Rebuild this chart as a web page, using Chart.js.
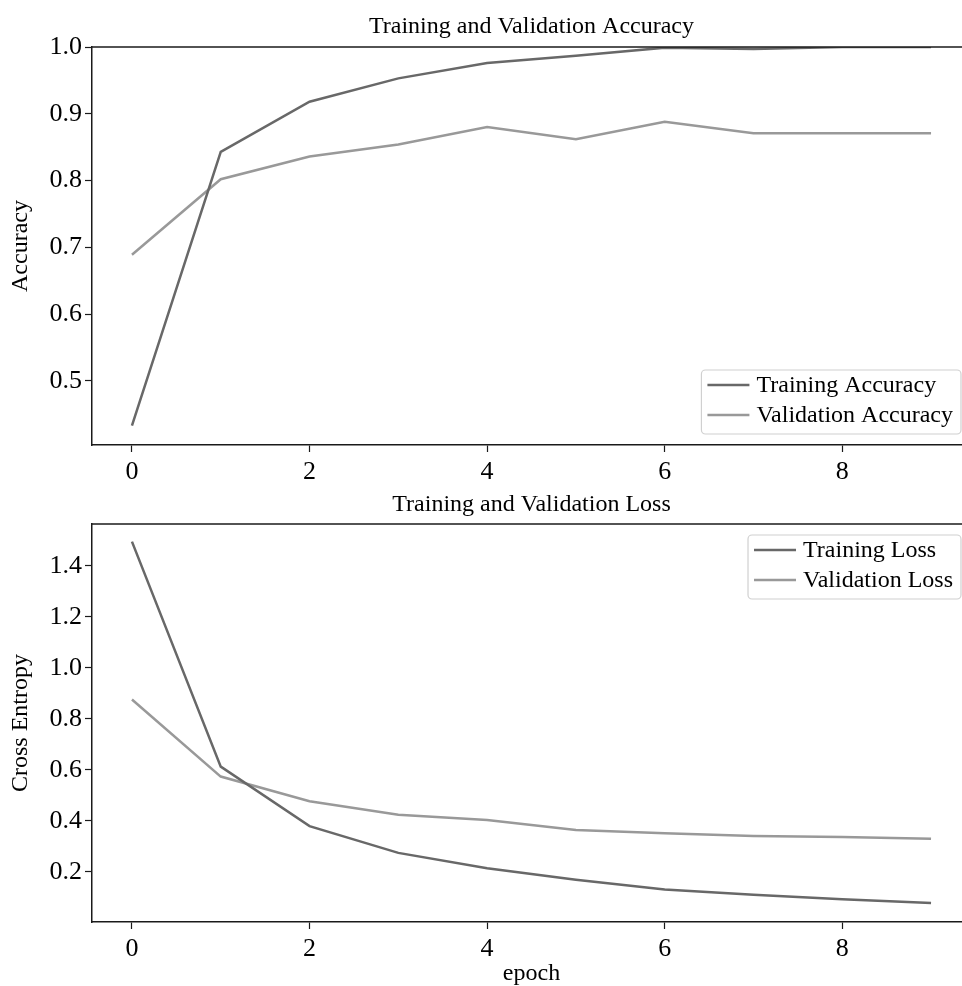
<!DOCTYPE html>
<html>
<head>
<meta charset="utf-8">
<script src="https://cdn.jsdelivr.net/npm/chart.js@4/dist/chart.umd.min.js"></script>
<style>
  html, body { margin: 0; padding: 0; background: #fff; overflow: hidden; width: 962px; height: 986px; }
  canvas { position: absolute; left: 0; }
  #acc-chart { top: 0; }
  #loss-chart { top: 490px; }
</style>
</head>
<body>
<canvas id="acc-chart" width="985" height="490"></canvas>
<canvas id="loss-chart" width="985" height="496"></canvas>
<script>
//data
const epochs = [0, 1, 2, 3, 4, 5, 6, 7, 8, 9];
const trainAcc = [0.433, 0.843, 0.918, 0.953, 0.976, 0.987, 0.999, 0.997, 1.0, 1.0];
const valAcc = [0.689, 0.802, 0.836, 0.854, 0.880, 0.862, 0.888, 0.871, 0.871, 0.871];
const trainLoss = [1.495, 0.613, 0.380, 0.275, 0.215, 0.170, 0.131, 0.111, 0.093, 0.078];
const valLoss = [0.876, 0.574, 0.477, 0.424, 0.404, 0.365, 0.352, 0.341, 0.337, 0.330];

//tick labels
const xTicks = [0, 2, 4, 6, 8];
const accTicks = [0.5, 0.6, 0.7, 0.8, 0.9, 1.0];
const lossTicks = [0.2, 0.4, 0.6, 0.8, 1.0, 1.2, 1.4];

//styles
const FONT = 'Liberation Serif';
const DARK = '#686868';
const LIGHT = '#999999';
const AXIS = '#1a1a1a';

const toPoints = (ys) => epochs.map((x, i) => ({ x, y: ys[i] }));

//title, top spine and legend drawn inside the plot
const framePlugin = {
  id: 'frame',
  afterDraw(chart, args, opts) {
    const { ctx, chartArea } = chart;
    const { left, right, top, bottom } = chartArea;
    ctx.save();

    // top spine
    ctx.strokeStyle = AXIS;
    ctx.lineWidth = 1.5;
    ctx.beginPath();
    ctx.moveTo(left, top);
    ctx.lineTo(right, top);
    ctx.stroke();

    // title
    ctx.fillStyle = '#000';
    ctx.font = `24px "${FONT}"`;
    ctx.textAlign = 'center';
    ctx.textBaseline = 'alphabetic';
    ctx.fillText(opts.title, (left + right) / 2, top - opts.titleGap);

    // legend
    const rows = chart.data.datasets;
    ctx.font = `24px "${FONT}"`;
    const textW = Math.max(...rows.map((d) => ctx.measureText(d.label).width));
    const boxW = 6 + 42 + 7 + textW + 8;
    const boxH = 64;
    const boxR = right - 10;
    const boxL = boxR - boxW;
    const boxT = opts.legendAt === 'top' ? top + 11 : bottom - 11 - boxH;

    ctx.fillStyle = 'rgba(255,255,255,0.85)';
    ctx.strokeStyle = '#d0d0d0';
    ctx.lineWidth = 1.2;
    ctx.beginPath();
    ctx.roundRect(boxL, boxT, boxW, boxH, 4);
    ctx.fill();
    ctx.stroke();

    rows.forEach((d, i) => {
      const y = boxT + 15 + i * 30;
      ctx.strokeStyle = d.borderColor;
      ctx.lineWidth = 2.5;
      ctx.beginPath();
      ctx.moveTo(boxL + 6, y);
      ctx.lineTo(boxL + 48, y);
      ctx.stroke();
      ctx.fillStyle = '#000';
      ctx.textAlign = 'left';
      ctx.textBaseline = 'middle';
      ctx.fillText(d.label, boxL + 55, y + 1);
    });

    ctx.restore();
  },
};

//shared axis builder
const makeScales = (yMin, yMax, yTicks, yLabel, xHeight, xLabel) => ({
  x: {
    type: 'linear',
    min: -0.45,
    max: 9.45,
    afterBuildTicks: (axis) => {
      axis.ticks = xTicks.map((v) => ({ value: v }));
    },
    afterFit: (axis) => {
      axis.height = xHeight;
    },
    border: { display: true, color: AXIS, width: 1.5 },
    grid: { drawOnChartArea: false, drawTicks: true, tickLength: 7, tickColor: AXIS, tickWidth: 1.2 },
    ticks: {
      color: '#000',
      font: { family: FONT, size: 26 },
      padding: 5,
      maxRotation: 0,
      autoSkip: false,
      callback: (v) => String(v),
    },
    title: {
      display: !!xLabel,
      text: xLabel || '',
      color: '#000',
      font: { family: FONT, size: 24, lineHeight: 1.0 },
      padding: { top: 0, bottom: 0 },
    },
  },
  y: {
    type: 'linear',
    min: yMin,
    max: yMax,
    afterBuildTicks: (axis) => {
      axis.ticks = yTicks.map((v) => ({ value: v }));
    },
    afterFit: (axis) => {
      axis.width = 92;
    },
    border: { display: true, color: AXIS, width: 1.5 },
    grid: { drawOnChartArea: false, drawTicks: true, tickLength: 7, tickColor: AXIS, tickWidth: 1.2 },
    ticks: {
      color: '#000',
      font: { family: FONT, size: 26 },
      padding: 3,
      autoSkip: false,
      callback: (v) => Number(v).toFixed(1),
    },
    title: {
      display: true,
      text: yLabel,
      color: '#000',
      font: { family: FONT, size: 24, lineHeight: 1.2 },
      padding: { top: 6, bottom: 0 },
    },
  },
});

const lineSet = (label, ys, color) => ({
  label,
  data: toPoints(ys),
  borderColor: color,
  backgroundColor: color,
  borderWidth: 2.5,
  pointRadius: 0,
  tension: 0,
  fill: false,
});

//charts
const accCtx = document.querySelector('#acc-chart');
const lossCtx = document.querySelector('#loss-chart');

new Chart(accCtx, {
  type: 'line',
  data: {
    datasets: [
      lineSet('Training Accuracy', trainAcc, DARK),
      lineSet('Validation Accuracy', valAcc, LIGHT),
    ],
  },
  options: {
    responsive: false,
    animation: false,
    layout: { padding: { left: 0, right: 14, top: 47, bottom: 0 } },
    scales: makeScales(0.404, 1.0, accTicks, 'Accuracy', 45, null),
    plugins: {
      legend: { display: false },
      tooltip: { enabled: false },
      frame: { title: 'Training and Validation Accuracy', titleGap: 14, legendAt: 'bottom' },
    },
  },
  plugins: [framePlugin],
});

new Chart(lossCtx, {
  type: 'line',
  data: {
    datasets: [
      lineSet('Training Loss', trainLoss, DARK),
      lineSet('Validation Loss', valLoss, LIGHT),
    ],
  },
  options: {
    responsive: false,
    animation: false,
    layout: { padding: { left: 0, right: 14, top: 34, bottom: 0 } },
    scales: makeScales(0.004, 1.564, lossTicks, 'Cross Entropy', 64, 'epoch'),
    plugins: {
      legend: { display: false },
      tooltip: { enabled: false },
      frame: { title: 'Training and Validation Loss', titleGap: 13, legendAt: 'top' },
    },
  },
  plugins: [framePlugin],
});
</script>
</body>
</html>
